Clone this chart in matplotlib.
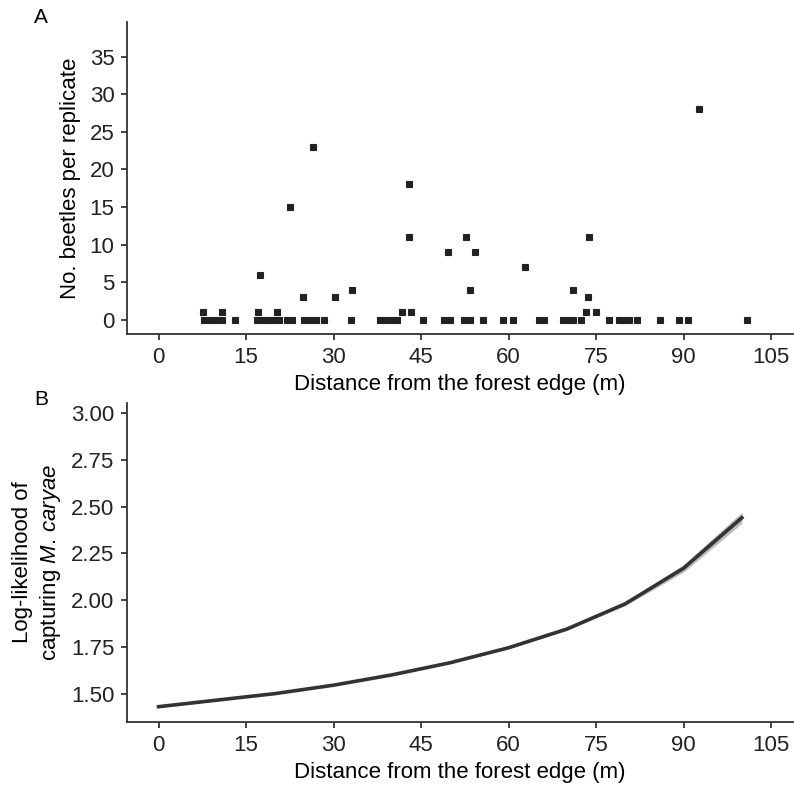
import matplotlib
matplotlib.use('Agg')
import numpy as np
from matplotlib import pyplot as plt

plt.rcParams['font.family'] = ['Liberation Sans', 'DejaVu Sans']
plt.rcParams['mathtext.fontset'] = 'custom'
plt.rcParams['mathtext.rm'] = 'Liberation Sans'
plt.rcParams['mathtext.it'] = 'Liberation Sans:italic'

# Panel A: beetle counts per replicate vs distance (m)
dist_0 = [7.8, 8.8, 9.7, 10.9, 13.1, 16.8, 17.9, 18.8, 19.7, 20.7, 22.0, 22.8,
          25.0, 26.0, 27.0, 28.3, 33.0, 38.0, 38.9, 40.0, 40.9, 45.4, 48.9,
          50.0, 52.3, 53.4, 55.6, 59.1, 60.7, 65.3, 66.0, 69.4, 70.3, 71.1,
          72.4, 77.2, 79.0, 79.7, 80.7, 82.0, 86.0, 89.2, 90.8, 100.9]
dist_pos = [7.7, 10.8, 17.1, 20.3, 41.7, 43.3, 73.3, 75.0,
            24.7, 30.3, 73.6,
            33.1, 53.4, 71.0,
            17.4, 62.9, 49.6, 54.2,
            42.9, 52.7, 73.8,
            22.5, 43.0, 26.4, 92.7]
count_pos = [1, 1, 1, 1, 1, 1, 1, 1,
             3, 3, 3,
             4, 4, 4,
             6, 7, 9, 9,
             11, 11, 11,
             15, 18, 23, 28]

# Panel B: fitted log-likelihood with confidence band
fit_x = [0, 10, 20, 30, 40, 50, 60, 70, 80, 90, 100]
fit_y = [1.43, 1.465, 1.50, 1.545, 1.60, 1.665, 1.745, 1.845, 1.98, 2.17, 2.44]
fit_lo = [1.425, 1.461, 1.497, 1.542, 1.597, 1.661, 1.740, 1.838, 1.970, 2.150, 2.41]
fit_hi = [1.435, 1.469, 1.503, 1.548, 1.603, 1.669, 1.750, 1.852, 1.990, 2.190, 2.47]

xticks = [0, 15, 30, 45, 60, 75, 90, 105]
dark = '#333333'
fs = 16

fig = plt.figure(figsize=(7.94, 7.86), dpi=100)
axA = fig.add_axes([0.160, 0.575, 0.839, 0.397])
axB = fig.add_axes([0.160, 0.0814, 0.839, 0.406])

x = np.concatenate([dist_0, dist_pos])
y = np.concatenate([np.zeros(len(dist_0)), count_pos])
axA.plot(x, y, 's', color='#222222', ms=4.9, mec='#222222', mew=0.8,
         ls='none')
axA.set_xlim(-5.4, 108.8)
axA.set_ylim(-1.9, 39.6)
axA.set_yticks([0, 5, 10, 15, 20, 25, 30, 35])
axA.set_ylabel('No. beetles per replicate', fontsize=fs, labelpad=6)

axB.fill_between(fit_x, fit_lo, fit_hi, color='#bbbbbb', lw=0)
axB.plot(fit_x, fit_y, color=dark, lw=2.6)
axB.set_xlim(-5.4, 108.8)
axB.set_ylim(1.348, 3.054)
axB.set_yticks([1.50, 1.75, 2.00, 2.25, 2.50, 2.75, 3.00])
axB.set_yticklabels(['%.2f' % t for t in [1.50, 1.75, 2.00, 2.25, 2.50, 2.75, 3.00]])
axB.set_ylabel('Log-likelihood of\ncapturing $M.\\,caryae$', fontsize=fs,
               labelpad=6, linespacing=1.25)

for ax in (axA, axB):
    ax.set_xticks(xticks)
    ax.set_xlabel('Distance from the forest edge (m)', fontsize=fs, labelpad=5)
    for s in ('top', 'right'):
        ax.spines[s].set_visible(False)
    for s in ('left', 'bottom'):
        ax.spines[s].set_color(dark)
        ax.spines[s].set_linewidth(1.3)
    ax.tick_params(labelsize=fs, colors='#222222', length=4, width=1.2, pad=5)

fig.text(0.043, 0.978, 'A', fontsize=15, va='center', ha='left')
fig.text(0.043, 0.492, 'B', fontsize=15, va='center', ha='left')

fig.savefig('out.png', dpi=100)
